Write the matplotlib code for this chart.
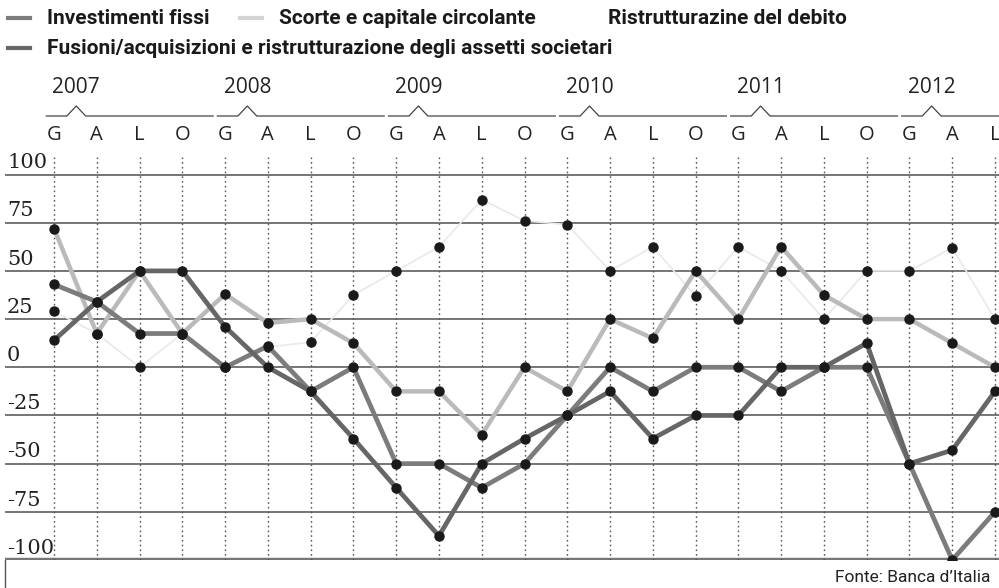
import matplotlib.pyplot as plt
from matplotlib.transforms import blended_transform_factory
import numpy as np

# quarters (G=gennaio, A=aprile, L=luglio, O=ottobre), 2007 Q1 .. 2012 Q3
quarters = ['G', 'A', 'L', 'O'] * 5 + ['G', 'A', 'L']
years = ['2007', '2008', '2009', '2010', '2011', '2012']

investimenti = [43, 34, 17.5, 17.5, 0, 11, -12.5, 0, -50, -50, -62.5, -50,
                -25, 0, -12.5, 0, 0, -12.5, 0, 0, -50, -100, -75]
scorte = [72, 17.5, 50, 17.5, 38, 23, 25, 12.5, -12.5, -12.5, -35, 0,
          -12.5, 25, 15, 50, 25, 62.5, 37.5, 25, 25, 12.5, 0]
ristrutturazione = [29, 17.5, 0, 17.5, 0, 10.5, 13, 37.5, 50, 62.5, 87, 76,
                    74, 50, 62.5, 37, 62.5, 50, 25, 50, 50, 62, 25]
fusioni = [14, 34, 50, 50, 21, 0, -12.5, -37, -62.5, -87.5, -50, -37,
           -25, -12.5, -37, -25, -25, 0, 0, 12.5, -50, -43, -12.5]

W, H = 999, 588
fig = plt.figure(figsize=(W / 100, H / 100), dpi=100)
fig.patch.set_facecolor('white')

# axes box in pixels: x 5..999, y 157..560
ax = fig.add_axes([5 / W, 1 - 560 / H, 994 / W, (560 - 157) / H])
ax.set_facecolor('white')
step = (995 - 54) / 22
ax.set_xlim(-49 / step, 22 + 4 / step)
ax.set_ylim(-100, 109.1)
for s in ax.spines.values():
    s.set_visible(False)
ax.set_xticks([])
ax.set_yticks([])

x = np.arange(len(quarters))

# grid
for v in [-75, -50, -25, 0, 25, 50, 75, 100]:
    ax.axhline(v, color='#6a6a6a', lw=1.3, zorder=1)
ax.axhline(-100, color='#777777', lw=3.2, zorder=1)
for xi in x:
    ax.axvline(xi, color='#555555', lw=1.0, ls=(0, (1.2, 2.2)), zorder=1)

# y labels above the lines
for v in [100, 75, 50, 25, 0, -25, -50, -75, -100]:
    ax.text(-47 / step, v + 1.2, str(v), fontsize=15,
            family='DejaVu Serif', color='#222222', ha='left', va='bottom',
            zorder=2)

dot = dict(marker='o', ms=6.5, mfc='#1a1a1a', mec='#1a1a1a', zorder=4)
ax.plot(x, ristrutturazione, color='#e9e9e9', lw=1.2, **dot)
ax.plot(x, scorte, color='#bababa', lw=3.2, **dot)
ax.plot(x, investimenti, color='#7c7c7c', lw=3.4, **dot)
ax.plot(x, fusioni, color='#666666', lw=3.4, **dot)

# header: quarters, year braces
tr = blended_transform_factory(ax.transData, fig.transFigure)
for xi, q in zip(x, quarters):
    ax.text(xi, 1 - 135 / H, q, transform=tr, ha='center', va='center',
            fontsize=14.5, family='Open Sans', color='#222222')
yb = 1 - 116 / H
yp = 1 - 106 / H
for k, yr in enumerate(years):
    i0 = 4 * k
    end = min(i0 + 3.72, 22.1)
    ax.plot([i0 - 0.18, i0 + 0.3, i0 + 0.52, i0 + 0.74, end],
            [yb, yb, yp, yb, yb], transform=tr, color='#444444', lw=0.9,
            clip_on=False)
    ax.text(i0 + 0.52, 1 - 88 / H, yr, transform=tr, ha='center',
            va='center', fontsize=15, family='Open Sans', color='#222222')

# legend
def legend_item(x0, y, color, label):
    fig.add_artist(plt.Line2D([x0 / W, (x0 + 22) / W], [1 - y / H] * 2,
                              color=color, lw=3, transform=fig.transFigure))
    fig.text((x0 + 39) / W, 1 - y / H, label, fontsize=15, weight='bold',
             family='Roboto', color='#1a1a1a', va='center', ha='left')

legend_item(8, 18, '#7c7c7c', 'Investimenti fissi')
legend_item(240, 18, '#d5d5d5', 'Scorte e capitale circolante')
legend_item(569, 18, '#ffffff', 'Ristrutturazine del debito')
legend_item(8, 48, '#666666',
            'Fusioni/acquisizioni e ristrutturazione degli assetti societari')

fig.add_artist(plt.Line2D([5 / W, 5 / W], [0, 1 - 560 / H], color='#555555',
                          lw=1, transform=fig.transFigure))
fig.text(990 / W, 1 - 577 / H, 'Fonte: Banca d\u2019Italia', fontsize=12.5,
         family='Roboto', color='#222222', ha='right', va='center')

fig.savefig('out.png', dpi=100, facecolor='white')
